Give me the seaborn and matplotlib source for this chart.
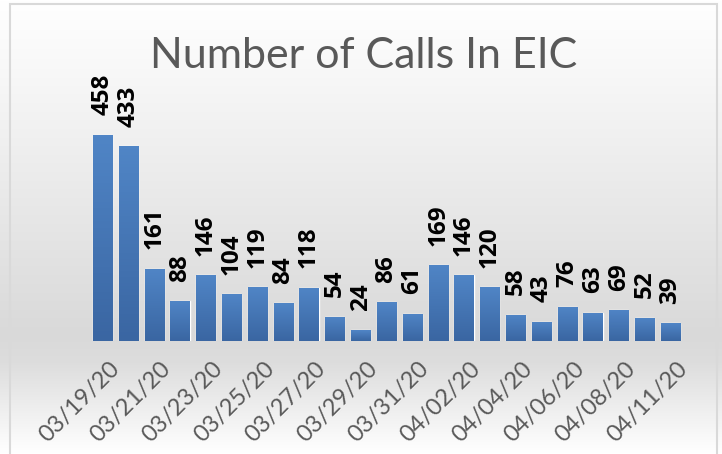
import numpy as np
import pandas as pd
import matplotlib
matplotlib.use("Agg")
import matplotlib.pyplot as plt
import matplotlib.transforms as mtransforms
from matplotlib.colors import LinearSegmentedColormap
from matplotlib.patches import Rectangle
import seaborn as sns

dates = ["03/19/20", "03/20/20", "03/21/20", "03/22/20", "03/23/20", "03/24/20",
         "03/25/20", "03/26/20", "03/27/20", "03/28/20", "03/29/20", "03/30/20",
         "03/31/20", "04/01/20", "04/02/20", "04/03/20", "04/04/20", "04/05/20",
         "04/06/20", "04/07/20", "04/08/20", "04/09/20", "04/11/20"]
calls = [458, 433, 161, 88, 146, 104, 119, 84, 118, 54, 24, 86,
         61, 169, 146, 120, 58, 43, 76, 63, 69, 52, 39]
title = "Number of Calls In EIC"

sns.set_theme(style="white")
plt.rcParams['font.family'] = ['Lato', 'DejaVu Sans']

W, H = 722, 454
fig = plt.figure(figsize=(W / 100, H / 100), dpi=100)

# background gradient
bg = fig.add_axes([0, 0, 1, 1], zorder=-10)
bg_cmap = LinearSegmentedColormap.from_list(
    "bg", [(0.0, "#ffffff"), (0.15, "#f8f8f8"), (0.74, "#d9d9d9"),
           (0.80, "#dddddd"), (1.0, "#ffffff")])
grad = np.linspace(0, 1, 256).reshape(-1, 1)
bg.imshow(grad, aspect="auto", cmap=bg_cmap, extent=[0, 1, 1, 0])
bg.set_xlim(0, 1); bg.set_ylim(1, 0)
bg.axis("off")

# border
fig.patches.append(Rectangle((10 / W, -0.05), 707 / W, 1 - 4 / H + 0.05,
                             transform=fig.transFigure, fill=False,
                             edgecolor="#d9d9d9", linewidth=1.5, zorder=-5))

ax = fig.add_axes([89.6 / W, (H - 341) / H, 593.8 / W, 225 / H])
ax.set_facecolor("none")
df = pd.DataFrame({"date": dates, "calls": calls})
sns.barplot(data=df, x="date", y="calls", color="#4a7bbb", width=0.74,
            ax=ax, saturation=1)
ax.set_ylim(0, 500)
xlim = ax.get_xlim()

bar_cmap = LinearSegmentedColormap.from_list("bar", ["#3a66a2", "#5085c6"])
for p in ax.patches:
    x0, y0 = p.get_x(), p.get_y()
    w, h = p.get_width(), p.get_height()
    im = ax.imshow(np.linspace(0, 1, 64).reshape(-1, 1), cmap=bar_cmap,
                   aspect="auto", extent=[x0, x0 + w, y0, y0 + h],
                   origin="lower", zorder=p.get_zorder() + 0.1)
    im.set_clip_path(p)
ax.set_xlim(xlim)
ax.set_ylim(0, 500)

ax.bar_label(ax.containers[0], labels=[str(v) for v in calls], rotation=90,
             padding=14, fontsize=17.5, fontweight="bold", color="black",
             family=["Open Sans", "DejaVu Sans"], clip_on=False)

for s in ax.spines.values():
    s.set_visible(False)
ax.set_yticks([])
ax.set_xlabel("")
ax.set_ylabel("")
ax.set_xticks(range(len(dates)))
ax.set_xticklabels([d if i % 2 == 0 else "" for i, d in enumerate(dates)],
                   rotation=45, ha="right", rotation_mode="anchor",
                   fontsize=17, color="#595959")
ax.tick_params(axis="x", length=0, pad=0)
off = mtransforms.ScaledTranslation(6 / 100, -17 / 100, fig.dpi_scale_trans)
for lab in ax.get_xticklabels():
    lab.set_transform(lab.get_transform() + off)

fig.text(364 / W, 1 - 56 / H, title, ha="center", va="center",
         fontsize=31, color="#595959", fontweight="normal")

fig.savefig("out.png", dpi=100)
